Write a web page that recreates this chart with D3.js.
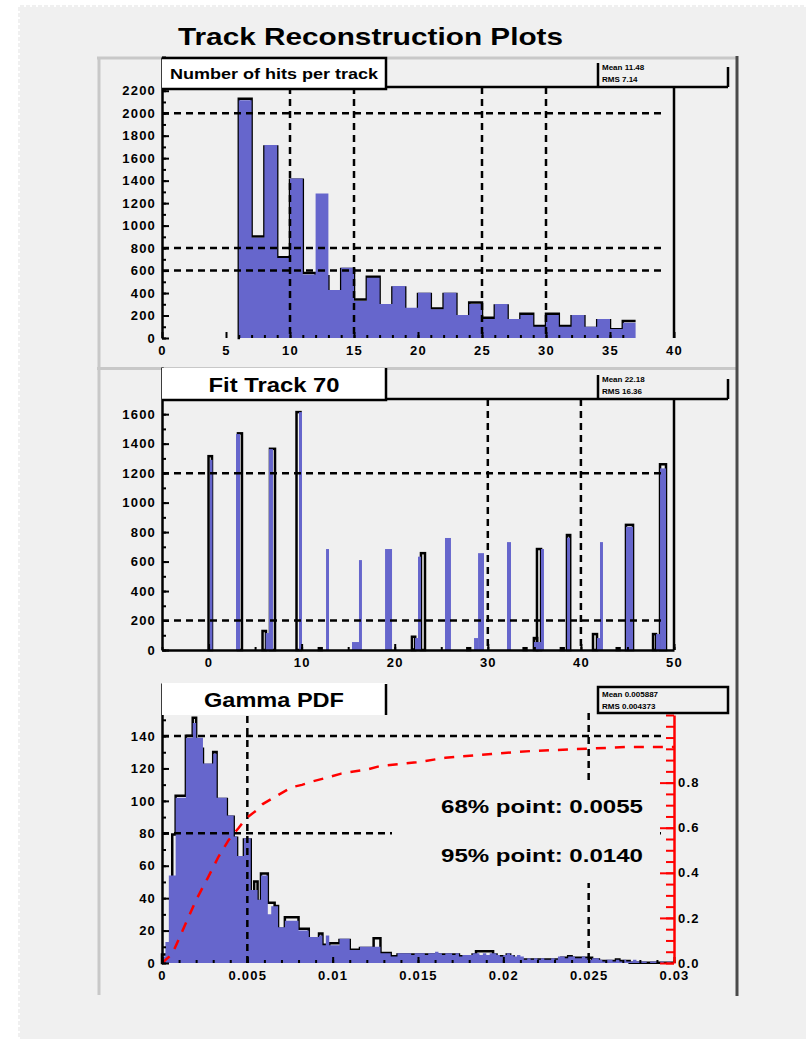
<!DOCTYPE html>
<html>
<head>
<meta charset="utf-8">
<script src="https://cdn.jsdelivr.net/npm/d3@7"></script>
<style>
  body { margin: 0; background: #fff; }
  svg text { font-family: "Liberation Sans", Arial, sans-serif; font-weight: bold; }
</style>
</head>
<body>
<script>
// ---- data ----
// panel 1 : number of hits per track (bin low edges, width 1)
var hitsBins = [6, 7, 8, 9, 10, 11, 12, 13, 14, 15, 16, 17, 18, 19, 20, 21, 22, 23, 24, 25, 26, 27, 28, 29, 30, 31, 32, 33, 34, 35, 36];
var hitsBlue = [2116, 892, 1716, 711, 1419, 566, 1286, 427, 625, 329, 536, 302, 462, 270, 402, 255, 402, 204, 302, 169, 302, 169, 204, 100, 204, 100, 204, 100, 169, 80, 136];
var hitsLine = [2140, 915, 1716, 730, 1419, 590, 560, 420, 625, 353, 556, 300, 460, 268, 402, 275, 402, 204, 328, 192, 300, 169, 228, 118, 228, 118, 204, 100, 169, 90, 162];
var hitsYTicks = [0, 200, 400, 600, 800, 1000, 1200, 1400, 1600, 1800, 2000, 2200];
var hitsXTicks = [0, 5, 10, 15, 20, 25, 30, 35, 40];

// panel 2 : fit track (narrow bins, [lo, hi] edges)
var fitBlueLo = [0.15, 2.95, 6.14, 6.49, 9.72, 12.62, 15.41, 16.16, 18.96, 22.18, 22.5, 25.4, 28.52, 28.95, 32.06, 34.96, 35.71, 38.51, 41.73, 42.05, 44.84, 48.07, 48.5];
var fitBlueHi = [0.42, 3.38, 6.49, 6.92, 10.04, 12.94, 16.16, 16.48, 19.71, 22.5, 22.82, 26.04, 28.95, 29.59, 32.49, 35.71, 36.03, 38.83, 42.05, 42.37, 45.6, 48.5, 49.14];
var fitBlueVal = [1290, 1465, 115, 1363, 1614, 685, 54, 610, 685, 81, 633, 760, 81, 657, 732, 54, 685, 762, 81, 732, 836, 108, 1232];
var fitLineLo = [0.0, 3.16, 5.8, 6.6, 9.45, 11.85, 21.85, 22.82, 27.8, 33.85, 34.95, 35.28, 37.85, 38.5, 41.3, 43.85, 44.84, 47.75, 48.5];
var fitLineHi = [0.37, 3.59, 6.17, 7.14, 9.88, 12.15, 22.2, 23.25, 28.1, 34.15, 35.3, 35.72, 38.15, 38.85, 41.73, 44.15, 45.6, 48.07, 49.14];
var fitLineVal = [1315, 1470, 129, 1365, 1614, 12, 90, 657, 12, 12, 81, 685, 12, 780, 108, 12, 849, 108, 1260];
var fitYTicks = [0, 200, 400, 600, 800, 1000, 1200, 1400, 1600];
var fitXTicks = [0, 10, 20, 30, 40, 50];

// panel 3 : gamma pdf, 150 bins of 0.0002
var gammaBinWidth = 0.0002;
var gammaBlue = [4, 13, 54, 54, 102, 102, 102, 139, 139, 148, 139, 139, 123, 123, 123, 129, 102, 102, 102, 91,
  91, 78, 66, 66, 77, 77, 45, 45, 39, 54, 54, 30, 35, 35, 22, 22, 26, 26, 26, 26,
  20, 20, 20, 16, 16, 16, 17, 11, 17, 11, 11, 11, 15, 15, 15, 8, 8, 8, 10, 10,
  10, 10, 10, 10, 6, 6, 6, 4, 4, 6, 6, 6, 6, 5, 6, 6, 6, 5, 6, 6,
  7, 6, 5, 6, 6, 5, 6, 4, 5, 5, 5, 6, 6, 5, 6, 5, 6, 6, 5, 4,
  5, 6, 5, 4, 5, 4, 2, 3, 2, 3, 2, 3, 2, 2, 3, 2, 4, 4, 3, 4,
  4, 3, 3, 4, 3, 2, 3, 3, 2, 1, 2, 2, 1, 2, 1, 2, 1, 1, 2, 1,
  1, 1, 0, 1, 1, 0, 1, 0, 1, 0];
var gammaLine = [6, 6, 6, 80, 104, 104, 104, 141, 141, 152, 133, 133, 123, 123, 123, 131, 102, 102, 102, 91,
  91, 78, 66, 66, 77, 77, 45, 51, 39, 56, 56, 38, 38, 36, 22, 22, 29, 29, 29, 29,
  22, 22, 22, 16, 16, 16, 19, 12, 12, 13, 13, 13, 15, 15, 15, 9, 9, 9, 10, 10,
  10, 10, 16, 16, 7, 7, 7, 5, 5, 6, 6, 6, 6, 6, 6, 6, 6, 6, 6, 6,
  6, 6, 6, 6, 6, 6, 6, 5, 5, 5, 5, 6, 8, 8, 8, 8, 8, 6, 5, 5,
  5, 6, 5, 3, 3, 3, 3, 3, 3, 3, 3, 3, 3, 3, 3, 3, 3, 4, 4, 5,
  4, 4, 4, 4, 4, 4, 3, 3, 2, 2, 2, 2, 2, 3, 2, 2, 2, 1, 1, 1,
  1, 1, 1, 1, 1, 1, 1, 1, 1, 1];
var cdfX = [0, 0.0006, 0.0020, 0.0027, 0.0033, 0.0039, 0.0045, 0.0049, 0.0055, 0.0059, 0.0068, 0.0076, 0.0082, 0.0088, 0.0098, 0.0105, 0.0121, 0.0128, 0.0149, 0.0166, 0.0193, 0.0216, 0.0272, 0.0300];
var cdfY = [0, 0.04, 0.28, 0.38, 0.47, 0.545, 0.60, 0.64, 0.675, 0.705, 0.745, 0.78, 0.79, 0.805, 0.825, 0.84, 0.86, 0.874, 0.89, 0.91, 0.927, 0.94, 0.958, 0.958];
var gammaYTicks = [0, 20, 40, 60, 80, 100, 120, 140];
var gammaXTicks = [0, 0.005, 0.01, 0.015, 0.02, 0.025, 0.03];
var cdfTicks = [0, 0.2, 0.4, 0.6, 0.8];

var BLUE = "#6666cc";
var BG = "#f0f0f0";

var svg = d3.select("body").append("svg")
  .attr("width", 806)
  .attr("height", 1039);

// canvas + pad
svg.append("rect").attr("x", 18).attr("y", 5).attr("width", 788).attr("height", 1034).attr("fill", BG);
svg.append("path").attr("d", "M18,6H806M19,5V1039")
  .attr("stroke", "#fff").attr("stroke-width", 2).attr("stroke-dasharray", "2,4").attr("fill", "none");
svg.append("path").attr("d", "M97,58H738M99,57V995M97,368.5H736")
  .attr("stroke", "#c8c8c8").attr("stroke-width", 3).attr("fill", "none");
svg.append("path").attr("d", "M737,56V996")
  .attr("stroke", "#4a4a4a").attr("stroke-width", 3).attr("fill", "none");

svg.append("text")
  .attr("x", 178).attr("y", 45)
  .attr("font-size", 24)
  .attr("textLength", 385).attr("lengthAdjust", "spacingAndGlyphs")
  .text("Track Reconstruction Plots");

var L = 162, R = 674;
var fmtInt = d3.format("d");

function yAxisLeft(g, y, major, minor) {
  g.append("g")
    .attr("transform", "translate(" + L + ",0)")
    .call(d3.axisLeft(y).tickValues(minor).tickSize(-4).tickFormat("").tickSizeOuter(0))
    .call(function(a) { a.select(".domain").remove(); a.selectAll("line").attr("stroke-width", 2); });
  g.append("g")
    .attr("transform", "translate(" + L + ",0)")
    .call(d3.axisLeft(y).tickValues(major).tickSize(-7).tickPadding(6).tickSizeOuter(0).tickFormat(fmtInt))
    .call(function(a) {
      a.select(".domain").attr("stroke-width", 2.5);
      a.selectAll("line").attr("stroke-width", 2);
      a.selectAll("text").attr("font-size", 13).attr("letter-spacing", 1.2).attr("font-family", null);
    });
}

function xAxisBottom(g, x, y0, major, minor, keepDomain, fmt) {
  g.append("g")
    .attr("transform", "translate(0," + y0 + ")")
    .call(d3.axisBottom(x).tickValues(minor).tickSize(-3).tickFormat("").tickSizeOuter(0))
    .call(function(a) { a.select(".domain").remove(); a.selectAll("line").attr("stroke-width", 2); });
  var ax = d3.axisBottom(x).tickValues(major).tickSize(-6).tickPadding(8).tickSizeOuter(0);
  ax.tickFormat(fmt || fmtInt);
  g.append("g")
    .attr("transform", "translate(0," + y0 + ")")
    .call(ax)
    .call(function(a) {
      if (keepDomain) a.select(".domain").attr("stroke-width", 2.5);
      else a.select(".domain").remove();
      a.selectAll("line").attr("stroke-width", 2);
      a.selectAll("text").attr("font-size", 13).attr("letter-spacing", 1.2).attr("font-family", null);
    });
}

function grid(g, d) {
  g.append("path").attr("d", d)
    .attr("fill", "none").attr("stroke", "#000")
    .attr("stroke-width", 2.5).attr("stroke-dasharray", "7,5");
}

function titleBox(g, top, bottom, label, fs, tl, borders) {
  g.append("rect").attr("x", L).attr("y", top).attr("width", 225).attr("height", bottom - top).attr("fill", "#fff");
  g.append("path").attr("d", borders).attr("fill", "none").attr("stroke", "#000").attr("stroke-width", 2.5);
  g.append("text")
    .attr("x", L + 112).attr("y", (top + bottom) / 2 + fs * 0.36)
    .attr("text-anchor", "middle")
    .attr("font-size", fs)
    .attr("textLength", tl).attr("lengthAdjust", "spacingAndGlyphs")
    .text(label);
}

function statsText(g, x, y, lines) {
  lines.forEach(function(s, i) {
    g.append("text").attr("x", x).attr("y", y + i * 12).attr("font-size", 8).text(s);
  });
}

// outline histogram sits a hair lower so equal tops hide under the fill
function stepOutline(g, x, y, pts) {
  g.append("path")
    .attr("transform", "translate(0,1.3)")
    .attr("d", d3.line().curve(d3.curveStepAfter).x(function(d) { return x(d[0]); }).y(function(d) { return y(d[1]); })(pts))
    .attr("fill", "none").attr("stroke", "#000").attr("stroke-width", 2.5);
}

// ---------- panel 1 ----------
var g1 = svg.append("g");
var x1 = d3.scaleLinear().domain([0, 40]).range([L, R]);
var y1 = d3.scaleLinear().domain([0, 2500]).range([338, 57]);

var pts1 = hitsBins.map(function(b, i) { return [b, hitsLine[i]]; });
pts1.unshift([hitsBins[0], 0]);
pts1.push([hitsBins[hitsBins.length - 1] + 1, hitsLine[hitsLine.length - 1]]);
stepOutline(g1, x1, y1, pts1);

var area1 = hitsBins.map(function(b, i) { return [b, hitsBlue[i]]; });
area1.push([hitsBins[hitsBins.length - 1] + 1, hitsBlue[hitsBlue.length - 1]]);
g1.append("path")
  .attr("d", d3.area().curve(d3.curveStepAfter).x(function(d) { return x1(d[0]); }).y0(y1(0)).y1(function(d) { return y1(d[1]); })(area1))
  .attr("fill", BLUE);

grid(g1, [2000, 800, 600].map(function(v) { return "M" + L + "," + y1(v) + "H666"; }).join("") +
  [10, 15, 25, 30].map(function(v) { return "M" + x1(v) + ",87V338"; }).join(""));

yAxisLeft(g1, y1, hitsYTicks, d3.range(0, 2501, 100));
xAxisBottom(g1, x1, 338, hitsXTicks, d3.range(6, 37, 1), false);
g1.append("path").attr("d", "M" + R + ",87V338M387,87H728M598,63V87M728,67V87")
  .attr("fill", "none").attr("stroke", "#000").attr("stroke-width", 2.5);
statsText(g1, 602, 70, ["Mean   11.48", "RMS    7.14"]);
titleBox(g1, 57, 90, "Number of hits per track", 15, 208, "M" + L + ",58H386V89H" + L);

// ---------- panel 2 ----------
var g2 = svg.append("g");
var x2 = d3.scaleLinear().domain([-5, 50]).range([L, R]);
var y2 = d3.scaleLinear().domain([0, 1920]).range([650, 367]);

g2.selectAll("rect.line").data(fitLineVal).enter().append("rect")
  .attr("class", "line")
  .attr("x", function(d, i) { return x2(fitLineLo[i]); })
  .attr("width", function(d, i) { return x2(fitLineHi[i]) - x2(fitLineLo[i]); })
  .attr("y", function(d) { return y2(d); })
  .attr("height", function(d) { return y2(0) - y2(d); })
  .attr("fill", "none").attr("stroke", "#000").attr("stroke-width", 2.5);

g2.selectAll("rect.bar").data(fitBlueVal).enter().append("rect")
  .attr("class", "bar")
  .attr("x", function(d, i) { return x2(fitBlueLo[i]); })
  .attr("width", function(d, i) { return x2(fitBlueHi[i]) - x2(fitBlueLo[i]); })
  .attr("y", function(d) { return y2(d); })
  .attr("height", function(d) { return y2(0) - y2(d); })
  .attr("fill", BLUE);

grid(g2, [1200, 200].map(function(v) { return "M" + L + "," + y2(v) + "H666"; }).join("") +
  [30, 40].map(function(v) { return "M" + x2(v) + ",399V650"; }).join(""));

yAxisLeft(g2, y2, fitYTicks, d3.range(0, 1901, 100));
xAxisBottom(g2, x2, 650, fitXTicks, d3.range(-5, 51, 5), true);
g2.append("path").attr("d", "M" + R + ",399V650M387,399H728M598,375V399M728,379V399")
  .attr("fill", "none").attr("stroke", "#000").attr("stroke-width", 2.5);
statsText(g2, 602, 382, ["Mean   22.18", "RMS   16.36"]);
titleBox(g2, 368, 401, "Fit Track 70", 21, 131, "M386,368V400H" + L);

// ---------- panel 3 ----------
var g3 = svg.append("g");
var x3 = d3.scaleLinear().domain([0, 0.03]).range([L, R]);
var y3 = d3.scaleLinear().domain([0, 172.7]).range([963, 683]);
var yR = d3.scaleLinear().domain([0, 1.1]).range([963, 715]);

var pts3 = gammaLine.map(function(v, i) { return [i * gammaBinWidth, v]; });
pts3.unshift([0, 0]);
pts3.push([gammaLine.length * gammaBinWidth, gammaLine[gammaLine.length - 1]]);
stepOutline(g3, x3, y3, pts3);

var area3 = gammaBlue.map(function(v, i) { return [i * gammaBinWidth, v]; });
area3.push([gammaBlue.length * gammaBinWidth, gammaBlue[gammaBlue.length - 1]]);
g3.append("path")
  .attr("d", d3.area().curve(d3.curveStepAfter).x(function(d) { return x3(d[0]); }).y0(y3(0)).y1(function(d) { return y3(d[1]); })(area3))
  .attr("fill", BLUE);

grid(g3, "M" + L + "," + y3(140) + "H662M" + L + "," + y3(80) + "H662" +
  "M" + x3(0.005) + ",716V963M" + x3(0.025) + ",713V963");

// text pave hides the grid behind it
g3.append("rect").attr("x", 392).attr("y", 783).attr("width", 268).attr("height", 100).attr("fill", BG);
g3.append("text").attr("x", 441).attr("y", 813).attr("font-size", 18)
  .attr("textLength", 202).attr("lengthAdjust", "spacingAndGlyphs").text("68% point: 0.0055");
g3.append("text").attr("x", 441).attr("y", 862).attr("font-size", 18)
  .attr("textLength", 202).attr("lengthAdjust", "spacingAndGlyphs").text("95% point: 0.0140");

g3.append("path")
  .attr("d", d3.line().x(function(d, i) { return x3(cdfX[i]); }).y(function(d) { return yR(d); })(cdfY))
  .attr("fill", "none").attr("stroke", "#ff0000").attr("stroke-width", 2.5).attr("stroke-dasharray", "10,9");

yAxisLeft(g3, y3, gammaYTicks, d3.range(0, 171, 10));
xAxisBottom(g3, x3, 963, gammaXTicks, d3.range(0, 0.0301, 0.001), false, function(d) { return d3.format("")(+d.toFixed(3)); });

// red axis for the cumulative curve
g3.append("g")
  .attr("transform", "translate(" + R + ",0)")
  .call(d3.axisRight(yR).tickValues(d3.range(0, 1.11, 0.05)).tickSize(-8).tickFormat("").tickSizeOuter(0))
  .call(function(a) { a.select(".domain").remove(); a.selectAll("line").attr("stroke", "#ff0000").attr("stroke-width", 2); });
g3.append("g")
  .attr("transform", "translate(" + R + ",0)")
  .call(d3.axisRight(yR).tickValues(cdfTicks).tickSize(-14).tickPadding(4).tickSizeOuter(0))
  .call(function(a) {
    a.select(".domain").attr("stroke", "#ff0000").attr("stroke-width", 2.5);
    a.selectAll("line").attr("stroke", "#ff0000").attr("stroke-width", 2);
    a.selectAll("text").attr("font-size", 13).attr("letter-spacing", 1.2).attr("font-family", null).attr("fill", "#000");
  });

g3.append("rect").attr("x", 598).attr("y", 687).attr("width", 130).attr("height", 26)
  .attr("fill", "none").attr("stroke", "#000").attr("stroke-width", 2.5);
statsText(g3, 602, 697, ["Mean  0.005887", "RMS   0.004373"]);
titleBox(g3, 683, 715, "Gamma PDF", 21, 140, "M386,684V715");
</script>
</body>
</html>
